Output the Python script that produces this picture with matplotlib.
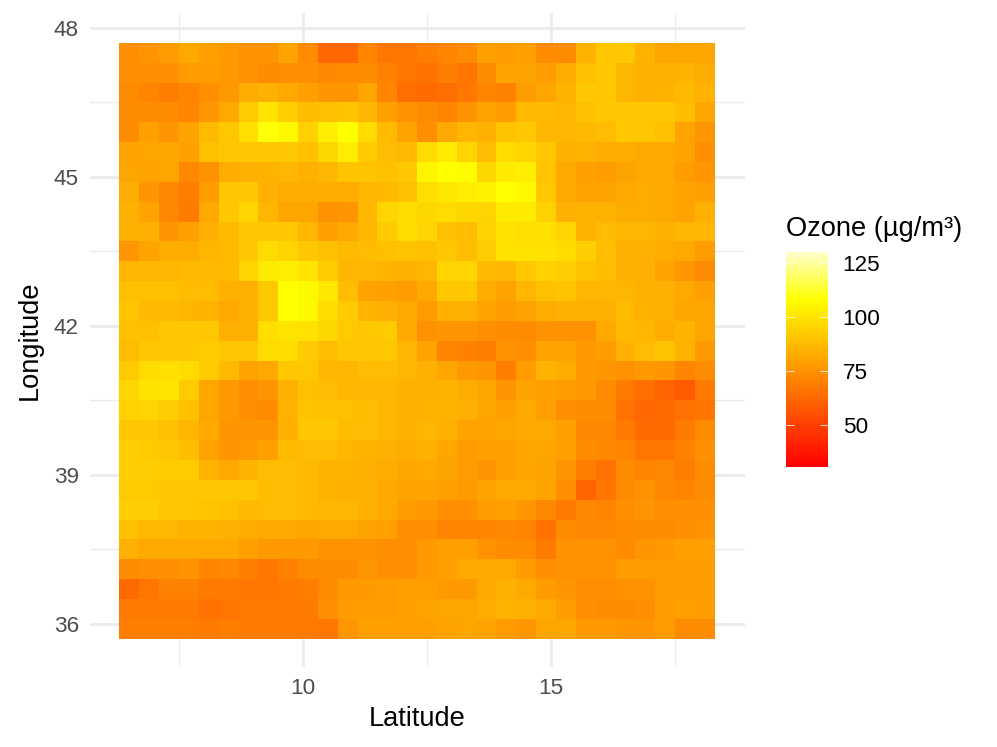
import numpy as np
import matplotlib
matplotlib.use('Agg')
import matplotlib.pyplot as plt
from matplotlib.colors import LinearSegmentedColormap

plt.rcParams['font.family'] = ['Liberation Sans', 'DejaVu Sans']

# ozone values, top row first, west to east
west_part = [
    [74, 76, 78, 82, 79, 77, 75, 75, 80, 73, 62, 62, 71, 67, 67],
    [74, 74, 74, 78, 78, 77, 75, 73, 74, 74, 72, 73, 73, 70, 66],
    [73, 71, 69, 71, 74, 77, 83, 84, 82, 79, 76, 76, 81, 71, 64],
    [73, 73, 73, 71, 76, 82, 92, 100, 93, 88, 89, 90, 86, 79, 75],
    [73, 79, 76, 80, 87, 91, 98, 109, 106, 94, 103, 108, 97, 87, 80],
    [80, 81, 81, 79, 89, 91, 91, 91, 91, 89, 96, 103, 92, 88, 87],
    [81, 80, 81, 72, 75, 83, 84, 85, 86, 84, 86, 90, 90, 89, 91],
    [83, 76, 72, 69, 78, 91, 91, 84, 83, 83, 83, 83, 86, 87, 89],
    [84, 80, 72, 68, 82, 91, 95, 86, 81, 81, 75, 76, 86, 95, 97],
    [84, 84, 76, 79, 84, 87, 91, 91, 91, 86, 79, 82, 86, 92, 97],
    [76, 80, 83, 83, 86, 87, 91, 97, 95, 91, 89, 87, 88, 89, 90],
    [86, 86, 86, 87, 87, 87, 95, 102, 103, 100, 92, 86, 86, 85, 84],
    [89, 89, 89, 88, 88, 84, 84, 91, 108, 106, 101, 88, 80, 79, 78],
    [90, 87, 87, 86, 85, 82, 84, 91, 108, 106, 97, 92, 85, 84, 82],
    [89, 89, 91, 91, 91, 84, 84, 98, 100, 99, 96, 92, 91, 92, 82],
    [88, 91, 91, 91, 92, 91, 91, 97, 97, 92, 88, 91, 91, 91, 86],
    [92, 97, 98, 97, 92, 87, 80, 82, 91, 91, 86, 86, 88, 88, 86],
    [96, 99, 100, 92, 81, 77, 74, 76, 84, 89, 88, 86, 86, 86, 84],
    [94, 95, 93, 89, 81, 77, 74, 73, 85, 90, 89, 89, 88, 86, 84],
    [91, 91, 89, 86, 82, 76, 76, 76, 84, 91, 91, 88, 88, 86, 84],
    [93, 92, 91, 88, 80, 76, 77, 79, 87, 88, 88, 86, 85, 84, 83],
    [93, 93, 92, 92, 85, 82, 85, 88, 88, 87, 85, 85, 84, 83, 81],
    [92, 92, 91, 91, 91, 91, 91, 88, 88, 87, 85, 84, 84, 82, 80],
    [93, 93, 91, 91, 90, 89, 87, 88, 88, 87, 86, 86, 84, 82, 78],
    [89, 87, 87, 85, 85, 84, 83, 82, 82, 81, 82, 82, 80, 79, 74],
    [84, 82, 82, 82, 82, 82, 79, 77, 77, 77, 75, 75, 75, 74, 74],
    [73, 74, 74, 75, 71, 72, 69, 67, 70, 73, 73, 73, 76, 74, 74],
    [63, 66, 70, 70, 68, 68, 67, 67, 68, 69, 73, 77, 77, 78, 79],
    [68, 68, 68, 68, 65, 66, 68, 68, 68, 68, 74, 78, 78, 78, 79],
    [69, 69, 69, 69, 68, 69, 68, 68, 68, 68, 67, 76, 79, 79, 79],
]
east_part = [
    [69, 71, 73, 79, 78, 79, 73, 73, 85, 91, 91, 85, 81, 81, 81],
    [65, 69, 66, 73, 80, 80, 78, 83, 89, 91, 86, 84, 84, 85, 83],
    [63, 64, 67, 71, 70, 78, 81, 85, 91, 91, 86, 84, 85, 87, 85],
    [73, 71, 75, 80, 78, 87, 87, 86, 89, 91, 91, 91, 91, 88, 81],
    [74, 82, 86, 84, 90, 91, 86, 86, 87, 88, 91, 91, 89, 80, 76],
    [97, 102, 95, 88, 97, 95, 91, 84, 85, 83, 83, 82, 82, 80, 74],
    [105, 108, 107, 96, 102, 103, 90, 82, 79, 78, 80, 82, 82, 78, 76],
    [98, 101, 103, 104, 108, 106, 91, 82, 80, 80, 82, 83, 82, 80, 79],
    [96, 97, 96, 95, 102, 102, 94, 84, 85, 85, 83, 83, 82, 80, 84],
    [95, 89, 88, 94, 99, 98, 98, 95, 85, 88, 86, 86, 84, 86, 86],
    [89, 91, 88, 93, 99, 99, 99, 97, 93, 88, 84, 84, 83, 82, 78],
    [86, 95, 95, 87, 86, 91, 94, 93, 90, 88, 84, 84, 80, 76, 73],
    [82, 91, 91, 83, 80, 86, 89, 90, 86, 86, 86, 84, 84, 82, 79],
    [78, 84, 84, 80, 78, 80, 83, 84, 84, 84, 87, 85, 84, 81, 81],
    [75, 76, 76, 74, 73, 73, 75, 75, 75, 82, 87, 86, 83, 85, 81],
    [80, 71, 70, 69, 75, 74, 80, 80, 77, 78, 84, 88, 90, 85, 77],
    [84, 81, 77, 76, 69, 78, 85, 83, 77, 76, 75, 77, 76, 71, 73],
    [84, 85, 83, 81, 76, 80, 79, 78, 77, 73, 68, 64, 61, 58, 68],
    [85, 85, 84, 81, 79, 82, 79, 74, 73, 73, 65, 62, 63, 65, 66],
    [86, 84, 80, 80, 81, 82, 82, 79, 72, 72, 68, 63, 63, 68, 73],
    [84, 81, 78, 79, 79, 81, 81, 79, 73, 72, 71, 66, 66, 70, 74],
    [82, 80, 78, 76, 79, 81, 80, 76, 69, 65, 73, 71, 72, 69, 73],
    [80, 79, 77, 80, 82, 82, 80, 74, 61, 67, 73, 75, 72, 71, 73],
    [77, 74, 74, 78, 79, 76, 72, 68, 72, 71, 74, 76, 74, 74, 74],
    [74, 71, 71, 71, 72, 71, 65, 73, 72, 72, 73, 73, 73, 74, 75],
    [77, 79, 79, 75, 73, 73, 68, 75, 75, 75, 73, 76, 77, 79, 79],
    [77, 79, 82, 82, 82, 78, 74, 75, 75, 75, 78, 78, 78, 78, 78],
    [79, 77, 77, 82, 84, 82, 78, 76, 74, 74, 75, 75, 78, 78, 78],
    [80, 81, 81, 83, 85, 84, 82, 78, 74, 73, 73, 74, 78, 79, 78],
    [79, 80, 81, 80, 78, 76, 81, 81, 77, 77, 76, 76, 78, 73, 73],
]
x_centres = np.arange(30) * 0.4 + 6.5
y_centres = 47.5 - np.arange(30) * 0.4
x_major = [10, 15]
x_minor = [7.5, 12.5, 17.5]
y_major = [36, 39, 42, 45, 48]
y_minor = [37.5, 40.5, 43.5, 46.5]
legend_ticks = [50, 75, 100, 125]

ozone = np.hstack([np.array(west_part), np.array(east_part)])

W, H = 997, 747
fig = plt.figure(figsize=(W / 100, H / 100), dpi=100)
ax = fig.add_axes([90 / W, 1 - 667 / H, 655 / W, 654 / H])

heat = LinearSegmentedColormap.from_list(
    'heat', [(0, '#FF0000'), (0.78, '#FFFF00'), (1, '#FFFFCC')], N=256)
mesh = ax.pcolormesh(x_centres, y_centres, ozone, cmap=heat, vmin=30.6, vmax=130,
                     shading='nearest', zorder=3, linewidth=0)

ax.set_xlim(5.706, 18.91)
ax.set_ylim(35.13, 48.30)
ax.set_xticks(x_major)
ax.set_xticks(x_minor, minor=True)
ax.set_yticks(y_major)
ax.set_yticks(y_minor, minor=True)
ax.grid(which='major', color='#EBEBEB', lw=2.0, zorder=0)
ax.grid(which='minor', color='#EBEBEB', lw=1.0, zorder=0)
ax.set_axisbelow(True)
ax.tick_params(which='both', length=0)
ax.tick_params(axis='both', labelsize=16.2, labelcolor='#4D4D4D')
ax.tick_params(axis='x', pad=8)
ax.tick_params(axis='y', pad=8)
for s in ax.spines.values():
    s.set_visible(False)
ax.set_xlabel('Latitude', fontsize=19.6, labelpad=5)
ax.set_ylabel('Longitude', fontsize=19.6, labelpad=7.5)

# legend
cax = fig.add_axes([786 / W, 1 - 467 / H, 42 / W, 215 / H])
cb = fig.colorbar(mesh, cax=cax)
cb.outline.set_visible(False)
cb.set_ticks(legend_ticks)
cax.tick_params(length=0, labelsize=16.2, labelcolor='black', pad=10.5)
cax.hlines(legend_ticks, 0, 0.2, color='white', lw=0.7, alpha=0.8)
cax.hlines(legend_ticks, 0.8, 1, color='white', lw=0.7, alpha=0.8)
fig.text(786 / W, 1 - 229 / H, 'Ozone (µg/m³)', fontsize=19.6, va='center', ha='left')

fig.savefig('out.png', dpi=100)
